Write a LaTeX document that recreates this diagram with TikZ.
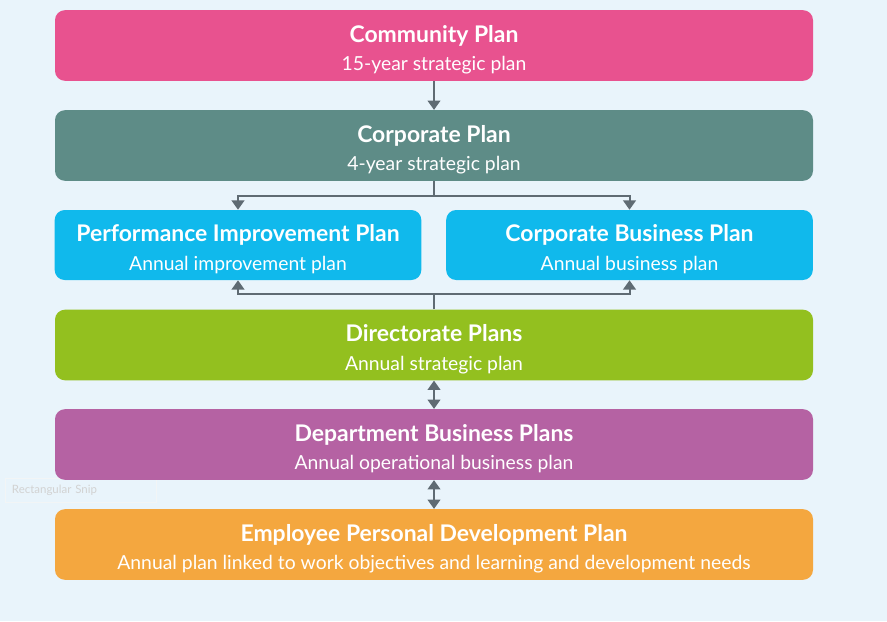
\documentclass[tikz,border=0pt]{standalone}
\usepackage{fontspec}
\setmainfont{Lato}
\usepackage{tikz}
\usetikzlibrary{arrows.meta,positioning}

\definecolor{bgblue}{HTML}{E9F4FB}
\definecolor{commpink}{HTML}{E8528F}
\definecolor{corpteal}{HTML}{5E8C87}
\definecolor{plancyan}{HTML}{10B9EC}
\definecolor{dirgreen}{HTML}{93C01F}
\definecolor{deppurple}{HTML}{B562A3}
\definecolor{emporange}{HTML}{F4A73F}
\definecolor{argray}{HTML}{5F6B73}

\newcommand{\plantext}[2]{{\fontsize{17.2}{21.5}\selectfont\bfseries\rule{0pt}{20.5pt}#1}\\{\fontsize{14.5}{21.5}\selectfont #2\rule[-4pt]{0pt}{4pt}}}

\begin{document}
\begin{tikzpicture}[x=0.75pt,y=-0.75pt,
  pl/.style={rounded corners=7.5pt,minimum width=568.5pt,minimum height=53pt,
    align=center,text=white,inner sep=0pt,font=\fontsize{14.5}{21.5}\selectfont},
  half/.style={pl,minimum width=275pt,minimum height=52.5pt},
  ln/.style={draw=argray,line width=1.5pt},
  ar/.style={ln,-{Triangle[width=9.5pt,length=7pt]}},
  dar/.style={ln,{Triangle[width=9.5pt,length=7pt]}-{Triangle[width=9.5pt,length=7pt]}}]
\fill[bgblue] (0,0) rectangle (887,621);
\useasboundingbox (0,0) rectangle (887,621);

% faint snip label, behind the boxes
\node[draw=bgblue!80!gray!30,text=gray!35,font=\fontsize{8.6}{10}\selectfont,
  anchor=west,minimum width=112pt,minimum height=14pt,inner sep=5pt,align=left,text width=103pt] (snip) at (5,490) {Rectangular Snip};

\node[pl,fill=commpink] (comm) at (434,45.5) {\plantext{Community Plan}{15-year strategic plan}};
\node[pl,fill=corpteal] (corp) at (434,145.5) {\plantext{Corporate Plan}{4-year strategic plan}};
\node[half,fill=plancyan] (pip) at (238,245) {\plantext{Performance Improvement Plan}{Annual improvement plan}};
\node[half,fill=plancyan] (cbp) at (629.5,245) {\plantext{Corporate Business Plan}{Annual business plan}};
\node[pl,fill=dirgreen] (dir) at (434,345) {\plantext{Directorate Plans}{Annual strategic plan}};
\node[pl,fill=deppurple] (dep) at (434,444.5) {\plantext{Department Business Plans}{Annual operational business plan}};
\node[pl,fill=emporange] (emp) at (434,544.5) {\plantext{Employee Personal Development Plan}{Annual plan linked to work objectives and learning and development needs}};

% connectors
\draw[ar] (comm) -- (corp);
\coordinate (splt) at (434,196);
\draw[ln] (corp.south) -- (splt);
\draw[ar] (splt) -| (pip.north);
\draw[ar] (splt) -| (cbp.north);
\coordinate (jn) at (434,294);
\draw[ln] (dir.north) -- (jn);
\draw[ar] (jn) -| (pip.south);
\draw[ar] (jn) -| (cbp.south);
\draw[dar] (dir) -- (dep);
\draw[dar] (dep) -- (emp);
\end{tikzpicture}
\end{document}
